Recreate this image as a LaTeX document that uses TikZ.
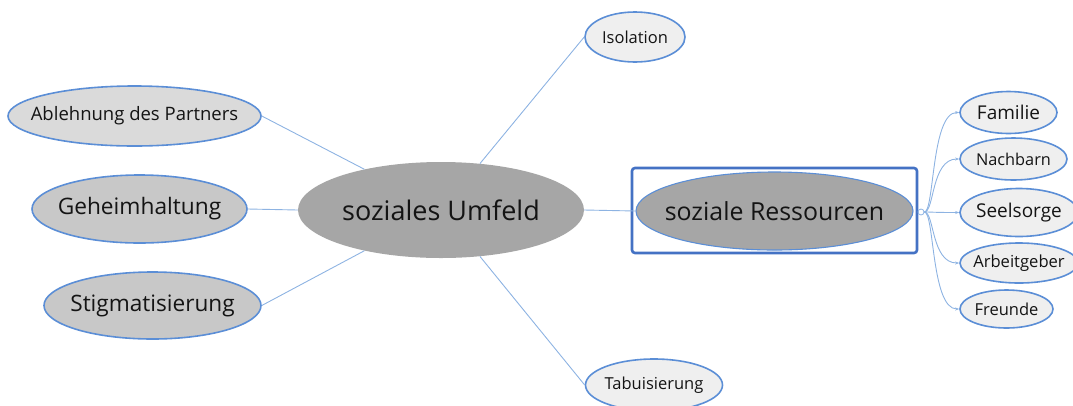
\documentclass[tikz,border=0pt]{standalone}
\usepackage{fontspec}
\setmainfont{Open Sans}
\usetikzlibrary{shapes.geometric,arrows.meta}

\definecolor{edgeblue}{HTML}{5B8ED6}
\definecolor{linkblue}{HTML}{8DB3E2}
\definecolor{framblue}{HTML}{4472C4}
\definecolor{darkfill}{HTML}{A6A6A6}
\definecolor{midfill}{HTML}{C8C8C8}
\definecolor{softfill}{HTML}{DADADA}
\definecolor{lightfill}{HTML}{EFEFEF}
\definecolor{inkcol}{HTML}{141414}

% text of a bubble: zero width so the ellipse keeps its given size
\newcommand{\lbl}[2]{\makebox[0pt]{\fontsize{#1bp}{#1bp}\selectfont #2}}

\tikzset{
  bubble/.style={ellipse, inner sep=0pt, draw=edgeblue, line width=1.6bp, text=inkcol},
  hubnode/.style={ellipse, inner sep=0pt, fill=darkfill, text=inkcol},
  link/.style={draw=linkblue, line width=0.9bp},
  branch/.style={draw=linkblue, line width=0.9bp, -{Stealth[length=4bp,width=3bp]}},
}

\begin{document}
\begin{tikzpicture}[x=1bp,y=-1bp]
  \clip (0,0) rectangle (1073,405);
  \useasboundingbox (0,0) rectangle (1073,405);

  % central topic and its frame-highlighted neighbour
  \node[hubnode, minimum width=286bp, minimum height=96bp] (umfeld) at (441,210) {\lbl{27}{soziales Umfeld}};
  \node[draw=framblue, line width=2.6bp, rounded corners=3bp, minimum width=285bp, minimum height=85bp, inner sep=0pt] (frame) at (774.5,210.5) {};
  \node[hubnode, draw=edgeblue, line width=1.1bp, minimum width=277bp, minimum height=78bp] (ress) at (774.5,211) {\lbl{24.9}{soziale Ressourcen}};

  % left and upper/lower sub-topics
  \node[bubble, fill=softfill, minimum width=253bp, minimum height=60bp] (abl) at (134.5,116) {\lbl{18.5}{Ablehnung des Partners}};
  \node[bubble, fill=midfill, minimum width=215bp, minimum height=68bp] (geh) at (139.5,209) {\lbl{22.7}{Geheimhaltung}};
  \node[bubble, fill=midfill, minimum width=217bp, minimum height=67bp] (stig) at (152.5,305.5) {\lbl{22.6}{Stigmatisierung}};
  \node[bubble, fill=lightfill, minimum width=100bp, minimum height=50bp] (iso) at (635,37) {\lbl{16.5}{Isolation}};
  \node[bubble, fill=lightfill, minimum width=137bp, minimum height=52bp] (tabu) at (654,385) {\lbl{16.5}{Tabuisierung}};

  % resources
  \node[bubble, fill=lightfill, minimum width=97bp, minimum height=42bp] (fam) at (1008.5,112.5) {\lbl{19}{Familie}};
  \node[bubble, fill=lightfill, minimum width=107bp, minimum height=42bp] (nach) at (1013.5,159) {\lbl{16.3}{Nachbarn}};
  \node[bubble, fill=lightfill, minimum width=118bp, minimum height=48bp] (seel) at (1019,212.5) {\lbl{19}{Seelsorge}};
  \node[bubble, fill=lightfill, minimum width=118bp, minimum height=40bp] (arb) at (1019,263) {\lbl{16.6}{Arbeitgeber}};
  \node[bubble, fill=lightfill, minimum width=93bp, minimum height=38bp] (freu) at (1006.5,309) {\lbl{16.5}{Freunde}};

  % connectors from the central topic
  \draw[link] (umfeld.152) -- (abl.east);
  \draw[link] (umfeld.west) -- (geh.east);
  \draw[link] (umfeld.208) -- (stig.east);
  \draw[link] (umfeld.50) -- (iso.west);
  \draw[link] (umfeld.-50) -- (tabu.west);
  \draw[link] (umfeld.east) -- (ress.west);

  % branching point and curved arrows to the resources
  \node[circle, draw=linkblue, line width=0.8bp, minimum size=6bp, inner sep=0pt] (hub) at (921,212) {};
  \foreach \t in {fam,nach,seel,arb,freu}{
    \draw[branch] (hub.east) .. controls +(10,0) and +(-28,0) .. (\t.west);
  }
\end{tikzpicture}
\end{document}
